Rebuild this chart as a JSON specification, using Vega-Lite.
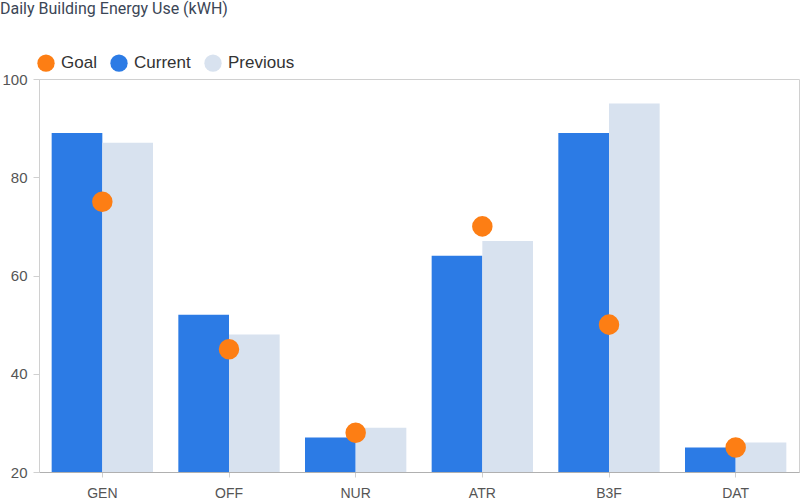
{
  "$schema": "https://vega.github.io/schema/vega-lite/v6.json",
  "autosize": "none",
  "padding": {"left": 39, "top": 79, "right": 1, "bottom": 27},
  "width": 760,
  "height": 393,
  "title": {
    "text": "Daily Building Energy Use (kWH)",
    "anchor": "start",
    "frame": "group",
    "orient": "top",
    "dx": -39,
    "offset": 37,
    "font": "Roboto",
    "fontSize": 16,
    "fontWeight": "normal",
    "color": "#3b4656"
  },
  "config": {
    "view": {"stroke": "#d0d0d0", "strokeWidth": 1},
    "font": "Liberation Sans"
  },
  "data": {
    "values": [
      {"building": "GEN", "series": "Current", "value": 89},
      {"building": "GEN", "series": "Previous", "value": 87},
      {"building": "GEN", "series": "Goal", "value": 75},
      {"building": "OFF", "series": "Current", "value": 52},
      {"building": "OFF", "series": "Previous", "value": 48},
      {"building": "OFF", "series": "Goal", "value": 45},
      {"building": "NUR", "series": "Current", "value": 27},
      {"building": "NUR", "series": "Previous", "value": 29},
      {"building": "NUR", "series": "Goal", "value": 28},
      {"building": "ATR", "series": "Current", "value": 64},
      {"building": "ATR", "series": "Previous", "value": 67},
      {"building": "ATR", "series": "Goal", "value": 70},
      {"building": "B3F", "series": "Current", "value": 89},
      {"building": "B3F", "series": "Previous", "value": 95},
      {"building": "B3F", "series": "Goal", "value": 50},
      {"building": "DAT", "series": "Current", "value": 25},
      {"building": "DAT", "series": "Previous", "value": 26},
      {"building": "DAT", "series": "Goal", "value": 25}
    ]
  },
  "encoding": {
    "x": {
      "field": "building",
      "type": "nominal",
      "sort": ["GEN", "OFF", "NUR", "ATR", "B3F", "DAT"],
      "scale": {"paddingInner": 0.2, "paddingOuter": 0.1},
      "axis": {
        "title": null,
        "labelAngle": 0,
        "labelFontSize": 14,
        "labelColor": "#555555",
        "labelPadding": 9,
        "domainColor": "#b0b0b0",
        "tickColor": "#d0d0d0",
        "tickSize": 5
      }
    },
    "y": {
      "field": "value",
      "type": "quantitative",
      "scale": {"domain": [20, 100], "zero": false, "nice": false},
      "axis": {
        "title": null,
        "values": [20, 40, 60, 80, 100],
        "grid": false,
        "labelFontSize": 15,
        "labelColor": "#555555",
        "labelPadding": 6,
        "domainColor": "#d0d0d0",
        "tickColor": "#d0d0d0",
        "tickSize": 6
      }
    },
    "color": {
      "field": "series",
      "type": "nominal",
      "scale": {
        "domain": ["Goal", "Current", "Previous"],
        "range": ["#fd7e14", "#2c7be5", "#d8e2ef"]
      },
      "legend": {
        "title": null,
        "orient": "none",
        "direction": "horizontal",
        "legendX": -2,
        "legendY": -25,
        "symbolType": "circle",
        "symbolSize": 300,
        "symbolOpacity": 1,
        "symbolStrokeWidth": 0,
        "labelFontSize": 17,
        "labelColor": "#333333",
        "labelOffset": 6,
        "columnPadding": 13
      }
    }
  },
  "layer": [
    {
      "transform": [{"filter": "datum.series !== 'Goal'"}],
      "mark": {"type": "bar", "clip": true},
      "encoding": {
        "xOffset": {
          "field": "series",
          "type": "nominal",
          "sort": ["Current", "Previous"],
          "scale": {"paddingInner": 0, "paddingOuter": 0}
        },
        "y2": {"datum": 20}
      }
    },
    {
      "transform": [{"filter": "datum.series === 'Goal'"}],
      "mark": {"type": "circle", "size": 420, "opacity": 1}
    }
  ]
}
